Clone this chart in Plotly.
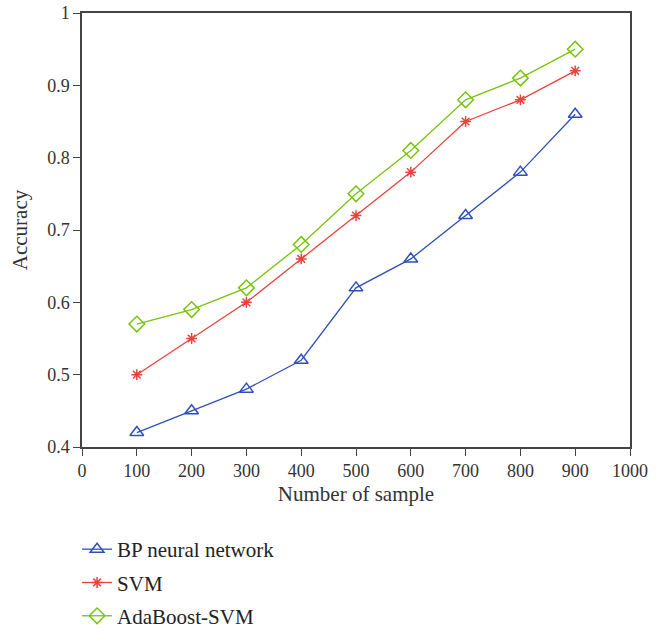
import plotly.graph_objects as go

samples = [100, 200, 300, 400, 500, 600, 700, 800, 900]
bp = [0.42, 0.45, 0.48, 0.52, 0.62, 0.66, 0.72, 0.78, 0.86]
svm = [0.50, 0.55, 0.60, 0.66, 0.72, 0.78, 0.85, 0.88, 0.92]
ada = [0.57, 0.59, 0.62, 0.68, 0.75, 0.81, 0.88, 0.91, 0.95]

x_ticks = [0, 100, 200, 300, 400, 500, 600, 700, 800, 900, 1000]
y_ticks = [0.4, 0.5, 0.6, 0.7, 0.8, 0.9, 1.0]
y_labels = ["0.4", "0.5", "0.6", "0.7", "0.8", "0.9", "1"]

font_family = "Liberation Serif, DejaVu Serif, serif"

fig = go.Figure()
fig.add_trace(go.Scatter(x=samples, y=bp, name="BP neural network", mode="lines+markers",
                         line=dict(color="#3050b8", width=1.3), legendgroup="a",
                         marker=dict(symbol="triangle-up-open", size=12, color="#3050b8", line=dict(width=1.5))))
fig.add_trace(go.Scatter(x=samples, y=svm, name="SVM", mode="lines+markers",
                         line=dict(color="#e8433a", width=1.3), legendgroup="b",
                         marker=dict(symbol="asterisk-open", size=9, color="#e8433a", line=dict(width=1.5, color="#e8433a"))))
fig.add_trace(go.Scatter(x=samples, y=ada, name="AdaBoost-SVM", mode="lines+markers",
                         line=dict(color="#78c40c", width=1.3), legendgroup="c",
                         marker=dict(symbol="diamond-open", size=12, color="#78c40c", line=dict(width=1.5))))

axis_common = dict(showline=True, linecolor="#444", linewidth=1.5, mirror=True,
                   ticks="outside", ticklen=7, tickcolor="#444", tickwidth=1.3,
                   showgrid=False, zeroline=False, automargin=False,
                   tickfont=dict(family=font_family, size=18, color="#333"),
                   title_font=dict(family=font_family, size=21, color="#333"))

fig.update_xaxes(range=[0, 1000], tickvals=x_ticks, title_text="Number of sample",
                 title_standoff=6, **axis_common)
fig.update_yaxes(range=[0.4, 1.0], tickvals=y_ticks, ticktext=y_labels, title_text="Accuracy",
                 title_standoff=14, **axis_common)

fig.update_layout(
    width=668, height=631,
    margin=dict(l=82, r=38, t=13, b=184, autoexpand=False),
    paper_bgcolor="white", plot_bgcolor="white",
    font=dict(family=font_family, color="#222"),
    showlegend=True,
    legend=dict(x=-0.009, y=-0.189, xanchor="left", yanchor="top", orientation="v",
                traceorder="grouped", tracegroupgap=3,
                font=dict(family=font_family, size=21, color="#222"),
                bgcolor="rgba(0,0,0,0)"),
)

fig.write_html("out.html", config={"displayModeBar": False},
               post_script="document.body.style.margin='0';")
